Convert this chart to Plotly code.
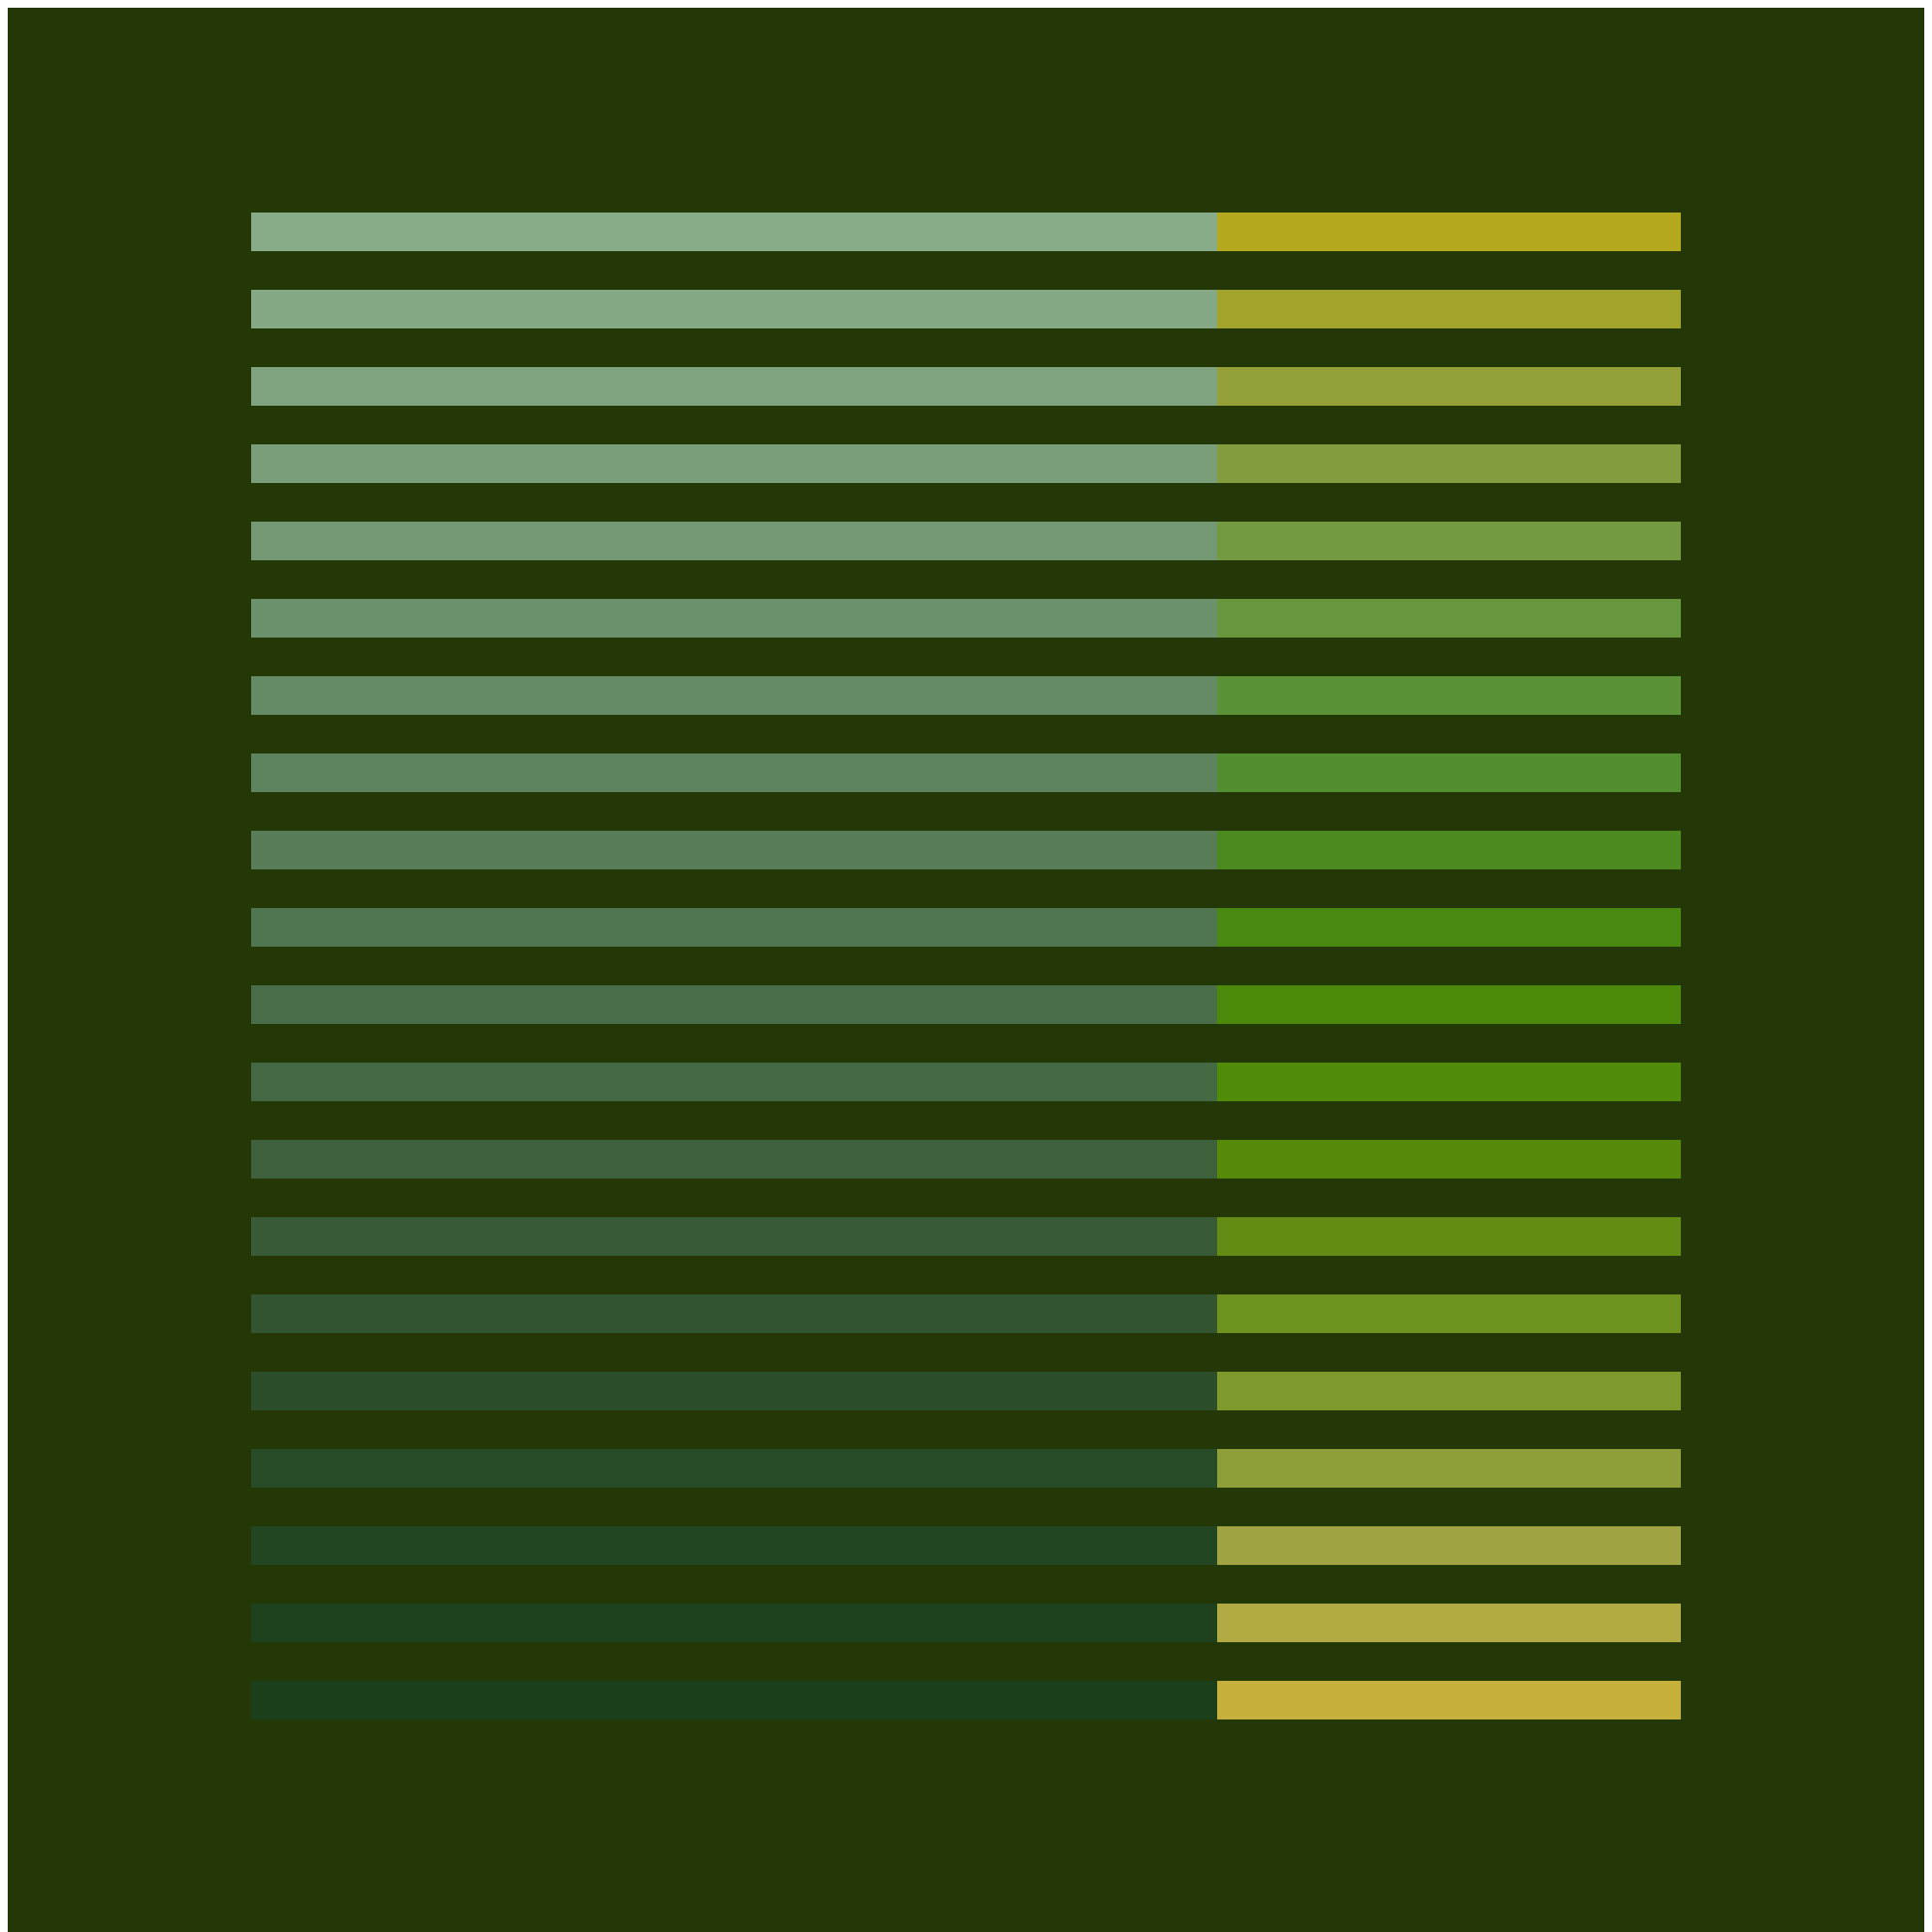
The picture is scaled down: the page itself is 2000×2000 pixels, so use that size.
import plotly.graph_objects as go

## DATA ##
rows = [f"r{i}" for i in range(1, 21)]
left_values = [1000] * 20
right_values = [480] * 20

## STYLE ##
bg_color = "#233806"
left_colors = [
    "#88ab88", "#84a883", "#7fa37e", "#799e78", "#739872",
    "#6c926c", "#658b64", "#5e845d", "#577c56", "#50764f",
    "#4a6e48", "#446841", "#3e613b", "#385a35", "#32552f",
    "#2c4f2a", "#274b25", "#224620", "#1e421c", "#1a3f19",
]
right_colors = [
    "#b4a91e", "#a3a42c", "#93a138", "#829d3e", "#739a40",
    "#66963e", "#5b9137", "#528d2f", "#4c8a1f", "#4b8a12",
    "#4d8a0c", "#518b0a", "#578a0a", "#638c14", "#6e921e",
    "#7f9a2c", "#8e9f3a", "#a0a443", "#b2ab44", "#c6b03c",
]

fig = go.Figure()
fig.add_trace(go.Bar(
    y=rows, x=left_values, orientation='h',
    marker=dict(color=left_colors, line=dict(width=0)),
    width=0.5, showlegend=False, hoverinfo='skip',
))
fig.add_trace(go.Bar(
    y=rows, x=right_values, orientation='h',
    marker=dict(color=right_colors, line=dict(width=0)),
    width=0.5, showlegend=False, hoverinfo='skip',
))

# the page body adds an 8px offset, so margins are shifted to compensate
fig.update_layout(
    barmode='stack',
    width=2000, height=2000,
    margin=dict(l=252, r=268, t=192, b=208),
    plot_bgcolor=bg_color,
    paper_bgcolor=bg_color,
    xaxis=dict(range=[0, 1480], visible=False, showgrid=False, zeroline=False),
    yaxis=dict(autorange=False, range=[19.5, -0.5], visible=False,
               showgrid=False, zeroline=False),
)

fig.write_html("out.html")
